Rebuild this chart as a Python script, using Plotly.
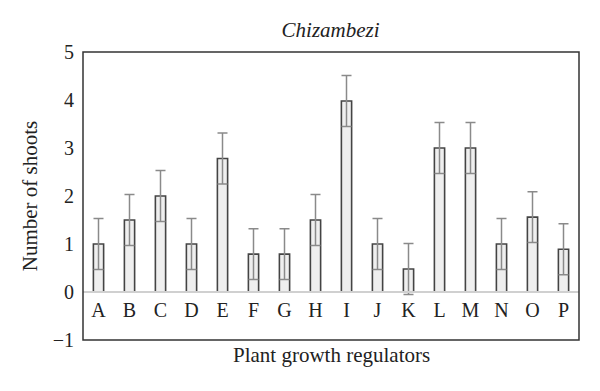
import plotly.graph_objects as go

categories = ["A", "B", "C", "D", "E", "F", "G", "H", "I", "J", "K", "L", "M", "N", "O", "P"]
shoots = [1.0, 1.5, 2.0, 1.0, 2.78, 0.79, 0.79, 1.5, 3.98, 1.0, 0.48, 3.0, 3.0, 1.0, 1.56, 0.89]
errors = [0.53, 0.53, 0.53, 0.53, 0.53, 0.53, 0.53, 0.53, 0.53, 0.53, 0.53, 0.53, 0.53, 0.53, 0.53, 0.53]
y_ticks = [-1, 0, 1, 2, 3, 4, 5]
y_tick_text = ["−1", "0", "1", "2", "3", "4", "5"]

FONT = "Liberation Serif"
TXT = "#222"

fig = go.Figure()
fig.add_trace(go.Bar(
    x=categories, y=shoots, width=0.33,
    marker=dict(color="#efefef", line=dict(color="#444", width=1.6)),
    error_y=dict(type="data", array=errors, visible=True, color="#8a8a8a", thickness=1.5, width=5),
))

ymin, ymax = -1, 5
fig.update_layout(
    width=600, height=391,
    margin=dict(l=83, r=21, t=52, b=51),
    plot_bgcolor="white", paper_bgcolor="white",
    showlegend=False,
    font=dict(family=FONT, size=20, color=TXT),
    title=dict(text="<i>Chizambezi</i>", x=0.551, xanchor="center", y=0.923, yanchor="middle",
               font=dict(family=FONT, size=21, color=TXT)),
    xaxis=dict(
        type="category", range=[-0.5, 15.5], automargin=False,
        anchor="free", position=(0 - ymin) / (ymax - ymin),
        showline=True, linecolor="#d0d0d0", linewidth=1.5,
        ticks="", showgrid=False, zeroline=False, ticklabelstandoff=0,
        tickfont=dict(family=FONT, size=20, color=TXT),
    ),
    yaxis=dict(
        range=[ymin, ymax], tickvals=y_ticks, ticktext=y_tick_text, automargin=False,
        showgrid=False, zeroline=False, showline=False, ticks="", ticklabelstandoff=8,
        tickfont=dict(family=FONT, size=20, color=TXT),
        title=dict(text="Number of shoots", font=dict(family=FONT, size=21, color=TXT), standoff=9),
    ),
    shapes=[dict(type="rect", xref="paper", yref="paper", x0=0, x1=1, y0=0, y1=1,
                 line=dict(color="#333", width=1.5), fillcolor="rgba(0,0,0,0)", layer="above")],
    annotations=[dict(text="Plant growth regulators", xref="paper", yref="paper", x=0.5, y=-0.052,
                      xanchor="center", yanchor="middle", showarrow=False,
                      font=dict(family=FONT, size=21, color=TXT))],
)

fig.write_html("out.html", config={"displayModeBar": False},
               post_script="document.body.style.margin='0';")
